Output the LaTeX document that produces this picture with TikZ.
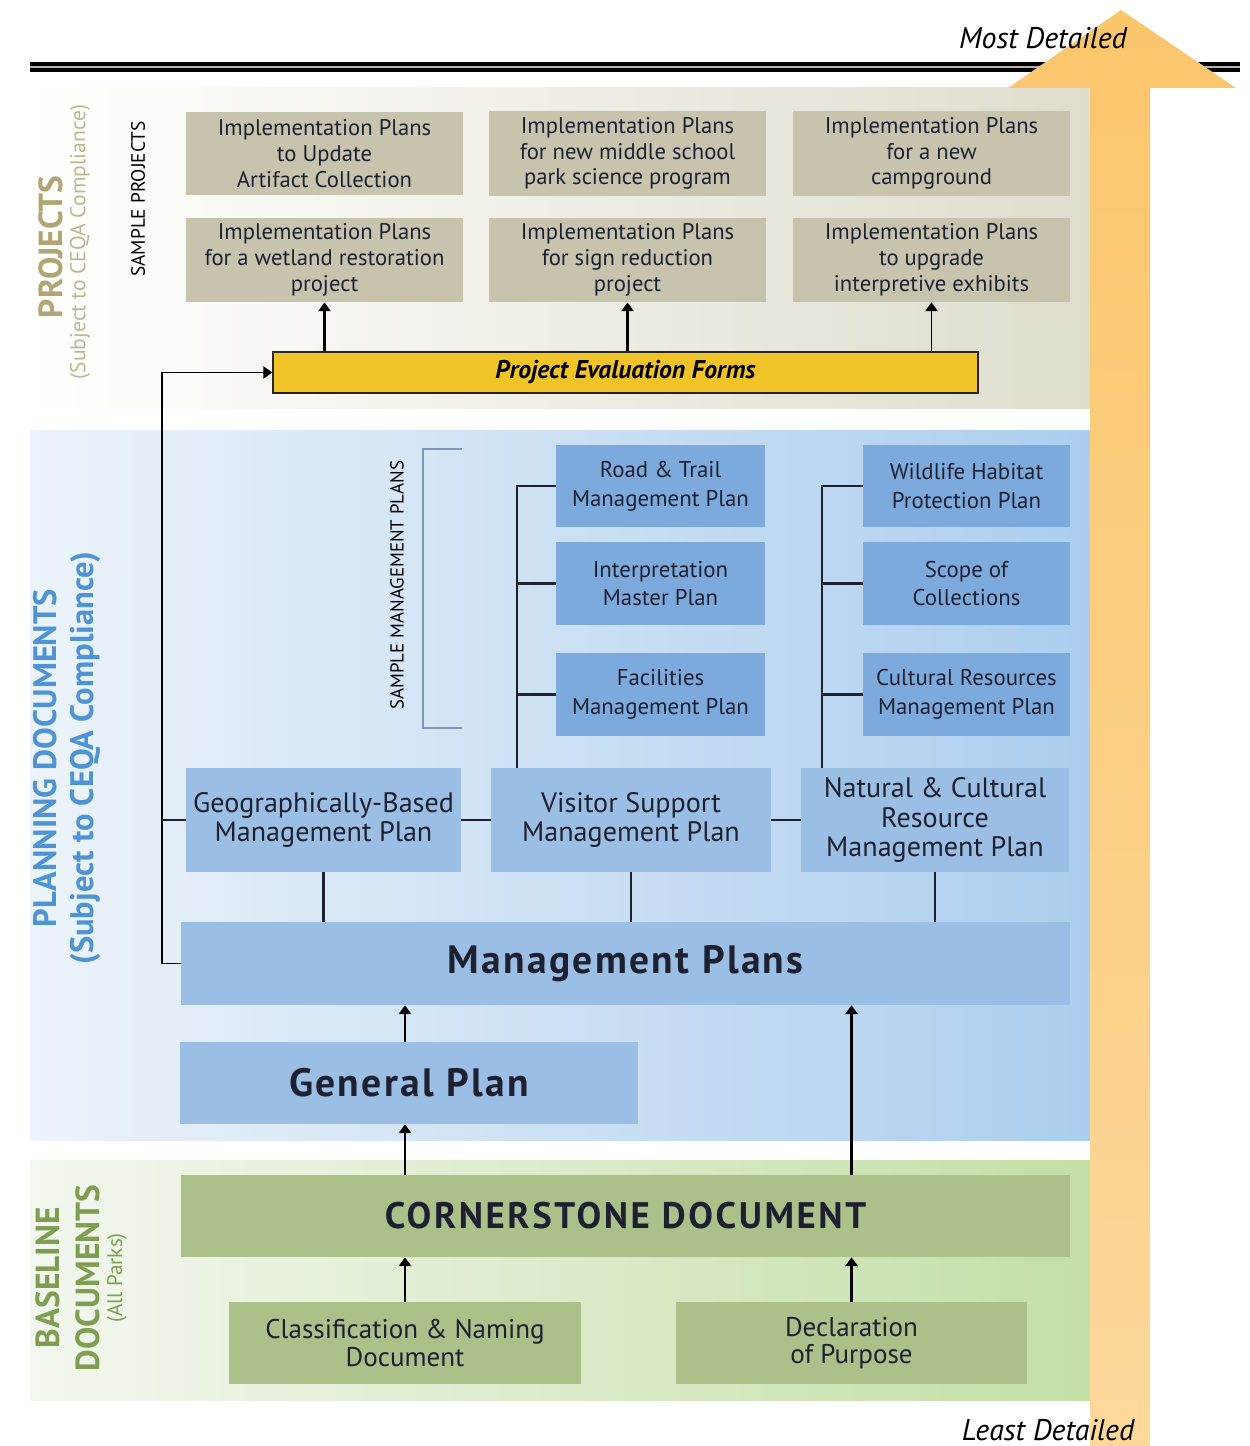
\documentclass[tikz,border=0pt]{standalone}
\usepackage{fontspec}
\setmainfont{PT Sans}
\usetikzlibrary{arrows.meta, positioning, calc}
\definecolor{projfill}{RGB}{200,195,173}
\definecolor{projband}{RGB}{222,221,205}
\definecolor{planband}{RGB}{172,206,238}
\definecolor{planleft}{RGB}{236,243,250}
\definecolor{baseband}{RGB}{196,223,166}
\definecolor{baseleft}{RGB}{243,247,239}
\definecolor{midblue}{RGB}{155,190,228}
\definecolor{subblue}{RGB}{124,170,220}
\definecolor{basegreen}{RGB}{172,192,138}
\definecolor{evalyellow}{RGB}{240,196,40}
\definecolor{arrtop}{RGB}{250,198,108}
\definecolor{arrbottom}{RGB}{253,216,155}
\definecolor{tanlabel}{RGB}{176,165,115}
\definecolor{tanlight}{RGB}{190,182,145}
\definecolor{bluelabel}{RGB}{78,148,212}
\definecolor{greenlabel}{RGB}{128,158,82}
\definecolor{bracketc}{RGB}{130,150,185}
\definecolor{boxtext}{RGB}{28,32,48}
\tikzstyle{projbox} = [rectangle, minimum width=5.54cm, minimum height=1.66cm, align=center, fill=projfill, text=boxtext, font=\fontsize{12.9}{14.7}\selectfont]
\tikzstyle{subbox} = [rectangle, minimum height=1.66cm, align=center, fill=subblue, text=boxtext, font=\fontsize{13}{16.4}\selectfont]
\tikzstyle{midbox} = [rectangle, minimum height=2.08cm, align=center, fill=midblue, text=boxtext, font=\fontsize{16}{17}\selectfont]
\tikzstyle{bigbox} = [rectangle, minimum height=1.66cm, fill=midblue, text=boxtext, font=\bfseries\fontsize{22.5}{26}\selectfont\addfontfeatures{LetterSpace=6}]
\tikzstyle{basebox} = [rectangle, minimum height=1.64cm, align=center, fill=basegreen, text=boxtext, font=\fontsize{15.4}{15.5}\selectfont]
\tikzstyle{arr} = [-{Triangle[length=5pt, width=7pt]}, line width=1.3pt]
\tikzstyle{link} = [line width=1.2pt, draw=boxtext]

\begin{document}
\begin{tikzpicture}[x=0.02cm, y=-0.02cm]
\useasboundingbox (0,0) rectangle (1249,1446);
% background bands
\fill[left color=white, right color=projband] (30,88) rectangle (1090,408);
\fill[left color=planleft, right color=planband] (30,430) rectangle (1090,1140);
\fill[left color=baseleft, right color=baseband] (30,1160) rectangle (1090,1400);
\draw[line width=2pt, double=gray!60, double distance=1.6pt] (30,67) -- (1240,67);
% detail arrow
\shade[top color=arrtop, bottom color=arrbottom] (1090,1446) -- (1090,88) -- (1008,88) -- (1121,10) -- (1236,88) -- (1150,88) -- (1150,1446) -- cycle;
\node (most) at (1043,38) [font=\itshape\fontsize{17}{20}\selectfont] {Most Detailed};
\node (least) at (1048,1430) [font=\itshape\fontsize{17}{20}\selectfont] {Least Detailed};

% side labels
\node (projlbl) at (51,247) [rotate=90, text=tanlabel, font=\bfseries\fontsize{19}{22}\selectfont] {PROJECTS};
\node (projsub) at (80,242) [rotate=90, text=tanlight, font=\fontsize{12.3}{14}\selectfont] {(Subject to CEQA Compliance)};
\node (samplep) at (138,199) [rotate=90, font=\fontsize{11}{13}\selectfont] {SAMPLE PROJECTS};
\node (planlbl) at (67,758) [rotate=90, align=center, text=bluelabel, font=\bfseries\fontsize{18.5}{21.5}\selectfont] {PLANNING DOCUMENTS\\(Subject to CEQA Compliance)};
\node (baselbl) at (68,1278) [rotate=90, align=center, text=greenlabel, font=\bfseries\fontsize{19}{22.7}\selectfont] {BASELINE\\DOCUMENTS};
\node (basesub) at (117,1278) [rotate=90, text=greenlabel, font=\fontsize{12}{14}\selectfont] {(All Parks)};
\node (samplem) at (397,585) [rotate=90, font=\fontsize{10.7}{12}\selectfont] {SAMPLE MANAGEMENT PLANS};
\draw[bracketc, line width=1pt] (462,449) -- (423,449) -- (423,728) -- (462,728);

% projects
\node (p1) at (324.5,153.5) [projbox] {Implementation Plans\\to Update\\Artifact Collection};
\node (p2) at (627.5,153.5) [projbox] {Implementation Plans\\for new middle school\\park science program};
\node (p3) at (931.5,153.5) [projbox] {Implementation Plans\\for a new\\campground};
\node (p4) at (324.5,260) [projbox] {Implementation Plans\\for a wetland restoration\\project};
\node (p5) at (627.5,260) [projbox] {Implementation Plans\\for sign reduction\\project};
\node (p6) at (931.5,260) [projbox] {Implementation Plans\\to upgrade\\interpretive exhibits};
\node (pef) at (625.5,372.5) [rectangle, minimum width=14.1cm, minimum height=0.82cm, fill=evalyellow, draw=black!85, line width=1pt, font=\bfseries\itshape\fontsize{14.6}{16}\selectfont] {Project Evaluation Forms};

% planning documents
\node (geo) at (323.5,820) [midbox, minimum width=5.5cm] {Geographically-Based\\Management Plan};
\node (vis) at (631,820) [midbox, minimum width=5.6cm] {Visitor Support\\Management Plan};
\node (nat) at (935,820) [midbox, minimum width=5.36cm] {Natural \& Cultural\\Resource\\Management Plan};
\node (road) at (660.5,486) [subbox, minimum width=4.18cm] {Road \& Trail\\Management Plan};
\node (interp) at (660.5,583.5) [subbox, minimum width=4.18cm] {Interpretation\\Master Plan};
\node (facil) at (660.5,694.5) [subbox, minimum width=4.18cm] {Facilities\\Management Plan};
\node (wild) at (966.5,486) [subbox, minimum width=4.14cm] {Wildlife Habitat\\Protection Plan};
\node (scope) at (966.5,583.5) [subbox, minimum width=4.14cm] {Scope of\\Collections};
\node (cult) at (966.5,694.5) [subbox, minimum width=4.14cm] {Cultural Resources\\Management Plan};
\node (mp) at (625.5,963.5) [bigbox, minimum width=17.78cm] {Management Plans};
\node (gp) at (409,1083) [bigbox, minimum width=9.16cm, minimum height=1.64cm] {General Plan};

% baseline documents
\node (cs) at (625.5,1216) [rectangle, minimum width=17.78cm, minimum height=1.64cm, fill=basegreen, text=boxtext, font=\bfseries\fontsize{21}{24}\selectfont\addfontfeatures{LetterSpace=7}] {CORNERSTONE DOCUMENT};
\node (cls) at (405,1343) [basebox, minimum width=7.04cm] {Classification \& Naming\\Document};
\node (decl) at (851.5,1343) [basebox, minimum width=7.02cm] {Declaration\\of Purpose};

% connectors
\coordinate (loopx) at (162,0);
\coordinate (trunkl) at (517,0);
\coordinate (trunkr) at (822,0);
\draw[arr, line width=0.9pt] (mp.west) -- (mp.west -| loopx) |- (pef.west);
\draw[link, line width=0.9pt] (geo.west) -- (geo.west -| loopx);
\draw[arr] (pef.north -| p4.south) -- (p4.south);
\draw[arr, line width=1.6pt] (pef.north -| p5.south) -- (p5.south);
\draw[arr, line width=0.9pt] (pef.north -| p6.south) -- (p6.south);
\draw[link] (geo.east) -- (vis.west);
\draw[link] (vis.east) -- (nat.west);
\draw[link] (geo.south) -- (geo.south |- mp.north);
\draw[link] (vis.south) -- (vis.south |- mp.north);
\draw[link] (nat.south) -- (nat.south |- mp.north);
\draw[link] (road.west) -- (road.west -| trunkl) -- (trunkl |- vis.north);
\draw[link] (interp.west) -- (interp.west -| trunkl);
\draw[link] (facil.west) -- (facil.west -| trunkl);
\draw[link] (wild.west) -- (wild.west -| trunkr) -- (trunkr |- nat.north);
\draw[link] (scope.west) -- (scope.west -| trunkr);
\draw[link] (cult.west) -- (cult.west -| trunkr);
\draw[arr] (gp.north -| cls.north) -- (mp.south -| cls.north);
\draw[arr] (cs.north -| cls.north) -- (gp.south -| cls.north);
\draw[arr] (cs.north -| decl.north) -- (mp.south -| decl.north);
\draw[arr] (cls.north) -- (cs.south -| cls.north);
\draw[arr] (decl.north) -- (cs.south -| decl.north);
\end{tikzpicture}
\end{document}
